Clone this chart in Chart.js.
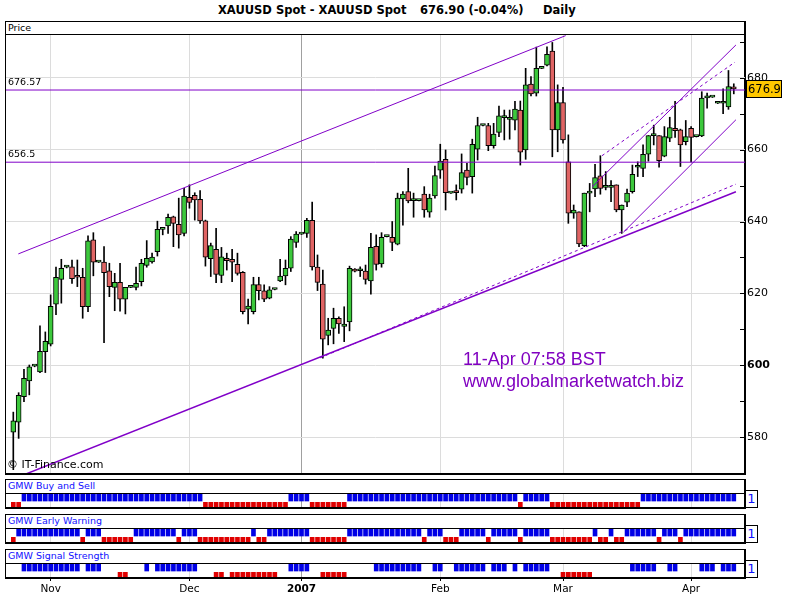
<!DOCTYPE html>
<html>
<head>
<meta charset="utf-8">
<title>XAUUSD Spot</title>
<script src="https://cdn.jsdelivr.net/npm/chart.js@4.4.1/dist/chart.umd.min.js"></script>
<style>
  html, body { margin: 0; padding: 0; background: #fff; }
  #page { position: relative; width: 800px; height: 600px; overflow: hidden; font-family: "DejaVu Sans", sans-serif; color: #000; }
  #page > * { position: absolute; }
  .frame { box-sizing: border-box; border: 1px solid #000; border-right-width: 2px; border-bottom-width: 2px; }
  .rule { height: 1px; background: #000; }
  .ttl { font-weight: bold; font-size: 11.5px; top: 3px; white-space: pre; }
  .strip-title { font-size: 9.5px; color: #1010ff; left: 8px; white-space: pre; }
  .one { box-sizing: border-box; width: 12px; height: 18px; border: 1px solid #000; border-left: none; color: #1010ff; font-size: 13px; text-align: center; line-height: 16px; }
  .mark { font-family: "Liberation Sans", Arial, sans-serif; font-size: 18px; color: #8000c0; left: 463px; white-space: pre; line-height: 20px; }
  canvas { left: 0; }
</style>
</head>
<body>
<div id="page">
  <span class="ttl" style="left:218px">XAUUSD Spot - XAUUSD Spot</span>
  <span class="ttl" style="left:420px">676.90 (-0.04%)</span>
  <span class="ttl" style="left:543px">Daily</span>

  <div class="frame" style="left:5px;top:21px;width:741px;height:454px"></div>
  <div class="rule" style="left:5px;top:34px;width:740px"></div>
  <span style="left:8px;top:22px;font-size:9.5px">Price</span>
  <canvas id="main" width="800" height="438" style="top:35px"></canvas>
  <div class="mark" style="top:349px">11-Apr 07:58 BST</div>
  <div class="mark" style="top:371px">www.globalmarketwatch.biz</div>
  <span style="left:7px;top:458px;font-size:11px">© IT-Finance.com</span>

  <div class="frame" style="left:5px;top:479px;width:741px;height:30px"></div>
  <div class="rule" style="left:5px;top:493px;width:740px"></div>
  <span class="strip-title" style="top:480px">GMW Buy and Sell</span>
  <div class="one" style="left:746px;top:490px">1</div>
  <canvas id="strip1" width="800" height="13" style="top:494px"></canvas>

  <div class="frame" style="left:5px;top:514px;width:741px;height:30px"></div>
  <div class="rule" style="left:5px;top:528px;width:740px"></div>
  <span class="strip-title" style="top:515px">GMW Early Warning</span>
  <div class="one" style="left:746px;top:525px">1</div>
  <canvas id="strip2" width="800" height="13" style="top:529px"></canvas>

  <div class="frame" style="left:5px;top:549px;width:741px;height:30px"></div>
  <div class="rule" style="left:5px;top:563px;width:740px"></div>
  <span class="strip-title" style="top:550px">GMW Signal Strength</span>
  <div class="one" style="left:746px;top:560px">1</div>
  <canvas id="strip3" width="800" height="36" style="top:564px"></canvas>
</div>

<script>
// Daily bars, one slot per trading session (late Oct 2006 to 11 Apr 2007)
const opens = [
  581.4, 584.2, 591.3, 595.7, 599.8, 598.2, 603.8, 605.9, 617.0, 623.9,
  627.3, 627.4, 624.6, 624.5, 616.3, 634.9, 628.7, 628.7, 626.3, 621.7,
  623.1, 618.4, 621.7, 621.7, 623.3, 627.8, 628.8, 631.6, 637.8, 638.8,
  641.3, 639.2, 636.7, 646.7, 647.3, 646.2, 640.2, 629.7, 632.3, 625.0,
  629.8, 629.5, 628.1, 625.9, 615.6, 614.9, 622.5, 620.7, 618.7, 621.1,
  623.5, 624.9, 627.0, 634.2, 636.5, 636.7, 640.3, 627.3, 622.6, 608.3,
  610.3, 613.1, 610.8, 612.1, 626.7, 626.3, 626.2, 623.5, 633.1, 628.2,
  635.8, 635.6, 633.7, 646.3, 648.3, 645.8, 645.8, 647.6, 642.6, 647.1,
  654.3, 657.3, 647.9, 648.6, 649.0, 654.3, 652.5, 660.1, 666.7, 666.7,
  661.1, 664.8, 668.9, 668.4, 668.2, 671.0, 659.9, 678.2, 675.7, 682.6,
  683.5, 687.4, 665.5, 673.1, 656.6, 642.3, 642.7, 633.3, 647.9, 649.1,
  652.7, 649.5, 649.5, 650.2, 643.2, 645.4, 648.3, 655.1, 654.8, 658.7,
  663.9, 663.9, 658.2, 663.2, 665.9, 665.5, 662.2, 665.9, 663.6, 663.8,
  674.4, 674.6, 672.9, 672.9, 671.9, 677.0
];
const highs = [
  587.0, 592.4, 598.9, 600.1, 600.0, 611.0, 609.3, 619.6, 627.3, 629.5,
  627.6, 629.3, 629.3, 627.0, 636.0, 636.9, 628.8, 633.0, 628.4, 625.6,
  628.4, 621.7, 621.8, 627.3, 629.5, 634.7, 631.2, 640.1, 637.9, 642.1,
  641.5, 646.5, 649.2, 650.2, 648.0, 648.6, 640.4, 634.0, 638.1, 632.8,
  631.2, 632.3, 631.2, 626.1, 618.4, 624.5, 624.5, 622.4, 621.9, 621.2,
  629.5, 629.3, 635.8, 637.2, 636.6, 640.9, 645.4, 630.7, 626.5, 613.1,
  615.9, 613.5, 616.3, 627.6, 626.9, 627.4, 627.9, 636.7, 636.3, 636.9,
  635.9, 640.0, 647.9, 648.3, 654.8, 647.9, 645.9, 649.7, 647.6, 655.4,
  661.5, 659.9, 648.0, 650.2, 658.8, 656.2, 662.9, 669.0, 666.8, 667.3,
  667.3, 672.1, 671.0, 671.0, 673.4, 673.5, 682.6, 680.3, 688.5, 682.7,
  688.6, 689.8, 678.0, 677.3, 664.1, 644.6, 642.7, 647.9, 650.6, 655.9,
  658.3, 653.9, 651.4, 650.2, 644.6, 649.0, 655.7, 656.6, 661.3, 663.9,
  666.8, 663.9, 666.4, 669.0, 673.4, 665.7, 668.1, 666.4, 663.7, 676.1,
  675.7, 674.7, 673.0, 676.9, 682.0, 678.3
];
const lows = [
  571.0, 579.7, 589.9, 591.8, 599.6, 598.0, 598.0, 605.4, 614.1, 617.3,
  627.1, 622.8, 621.9, 613.1, 614.9, 624.9, 628.6, 606.3, 619.1, 615.2,
  615.1, 614.3, 621.6, 621.0, 622.1, 627.3, 628.4, 630.4, 636.3, 636.7,
  633.0, 632.6, 636.0, 643.7, 640.4, 639.5, 627.6, 624.7, 623.0, 623.0,
  626.5, 623.3, 625.1, 614.3, 611.5, 614.3, 618.2, 617.7, 618.5, 621.0,
  623.3, 622.4, 626.1, 632.8, 636.4, 635.6, 626.5, 620.8, 602.0, 605.7,
  606.0, 608.9, 606.6, 609.6, 626.0, 624.7, 622.6, 619.8, 626.5, 627.3,
  635.7, 631.9, 633.5, 639.0, 645.2, 641.2, 645.7, 641.2, 641.2, 646.5,
  652.0, 643.2, 647.8, 646.0, 647.9, 650.2, 647.9, 657.1, 666.6, 659.7,
  660.4, 663.6, 662.7, 662.9, 665.5, 655.7, 657.3, 674.9, 674.9, 682.5,
  683.3, 658.0, 659.4, 661.8, 639.5, 640.9, 633.0, 633.0, 642.7, 646.9,
  647.6, 648.8, 645.5, 642.7, 636.7, 644.1, 647.9, 652.5, 652.5, 656.8,
  661.3, 655.1, 658.0, 662.2, 663.4, 655.3, 661.3, 656.6, 663.5, 663.6,
  671.5, 674.5, 672.8, 670.0, 671.2, 675.5
];
const closes = [
  584.6, 591.7, 596.4, 599.6, 599.9, 603.9, 606.7, 616.4, 624.5, 627.0,
  627.4, 624.1, 624.5, 616.3, 634.6, 628.7, 628.7, 625.8, 621.9, 623.1,
  618.4, 621.7, 621.7, 622.8, 628.4, 629.8, 630.1, 637.8, 637.8, 641.2,
  639.5, 636.3, 647.1, 645.3, 646.0, 640.2, 630.1, 633.3, 625.3, 630.2,
  629.1, 628.7, 625.6, 614.9, 616.5, 622.5, 620.8, 618.4, 621.0, 621.1,
  624.8, 627.0, 635.1, 636.5, 636.5, 640.3, 627.4, 623.1, 607.3, 609.8,
  613.1, 611.5, 611.5, 627.0, 626.2, 626.3, 623.9, 632.8, 628.1, 635.6,
  635.8, 634.2, 646.5, 647.6, 645.7, 645.8, 645.8, 643.2, 646.5, 652.8,
  656.8, 648.0, 647.9, 648.0, 653.6, 652.3, 661.5, 666.7, 666.7, 661.1,
  664.3, 669.4, 668.9, 669.0, 671.3, 659.3, 678.0, 675.5, 682.6, 682.6,
  686.5, 665.5, 673.1, 662.7, 642.3, 643.2, 633.8, 647.9, 647.9, 652.2,
  649.2, 649.5, 649.5, 643.2, 644.6, 647.9, 653.1, 655.1, 658.7, 663.9,
  663.9, 656.9, 663.6, 666.1, 665.3, 661.3, 663.6, 663.4, 663.6, 674.3,
  674.4, 674.6, 672.9, 672.9, 677.5, 676.9
];

// month starts (slot index) and their axis labels
const monthIdx = [7, 33, 54, 80, 103, 127];
const monthLabels = ['Nov', 'Dec', '2007', 'Feb', 'Mar', 'Apr'];
const priceTicks = [580, 590, 600, 610, 620, 630, 640, 650, 660, 670, 680, 690];

// horizontal levels and drawn trend lines, as [slot, price] end points
const levels = [676.57, 656.5];
const channelTop = [[0.94, 631.0], [103.5, 691.7]];
const channelBottom = [[0, 568.4], [135.4, 648.3]];
const supportDash = [[57.5, 602.1], [135.4, 650.4]];
const fanUpper = [[108.5, 649.7], [135.4, 689.1]];
const fanLower = [[114.3, 637.0], [135.4, 668.3]];
const fanDash = [[110.3, 658.3], [135.2, 684.3]];

// indicator strips: 1 = blue (buy), -1 = red (sell), 0 = none
const buySell = [
  -1,-1, 1, 1, 1, 1, 1, 1, 1, 1, 1, 1, 1, 1, 1, 1, 1, 1, 1, 1,
   1, 1, 1, 1, 1, 1, 1, 1, 1, 1, 1, 1, 1, 1, 1, 1,-1,-1,-1,-1,
  -1,-1,-1,-1,-1,-1,-1,-1,-1,-1,-1,-1, 1, 1, 1, 1,-1,-1,-1,-1,
  -1,-1,-1, 1, 1, 1, 1, 1, 1, 1, 1, 1, 1, 1, 1, 1, 1, 1, 1, 1,
   1, 1, 1, 1, 1, 1, 1, 1, 1, 1, 1, 1, 1, 1, 1,-1, 1, 1, 1, 1,
   1,-1,-1,-1,-1,-1,-1,-1,-1,-1,-1,-1,-1,-1,-1,-1,-1,-1, 1, 1,
   1, 1, 1, 1, 1, 1, 1, 1, 1, 1, 1, 1, 1, 1, 1, 1
];
const earlyWarning = [
  -1, 1, 1, 1, 1, 1, 1, 1, 1, 1, 1, 1, 1,-1, 1, 1, 1,-1,-1,-1,
  -1,-1,-1, 1, 1, 1, 1, 1, 1, 1, 1,-1, 1, 1, 1,-1,-1,-1,-1,-1,
  -1,-1,-1,-1,-1, 1,-1,-1, 1, 1, 1, 1, 1, 1, 1, 1,-1,-1,-1,-1,
  -1,-1,-1, 1, 1, 1, 1, 1, 1, 1, 1, 1, 1, 1, 1, 1, 1,-1, 1, 1,
   1,-1,-1,-1, 1, 1, 1, 1, 1,-1, 1, 1, 1, 1, 1,-1, 1, 1, 1, 1,
   1,-1,-1,-1,-1,-1,-1,-1,-1, 1,-1,-1, 1,-1,-1, 1, 1, 1, 1, 1,
   1,-1, 1, 1, 1,-1, 1, 1, 1, 1, 1, 1, 1, 1, 1, 1
];
const signalStrength = [
   0, 0, 1, 1, 1, 1, 1, 1, 1, 1, 1, 1, 1, 0, 1, 1, 1, 0, 0, 0,
  -1,-1, 0, 0, 0, 1, 0, 1, 1, 1, 1, 1, 1, 1, 1, 0, 0, 0,-1,-1,
   0,-1,-1,-1,-1,-1,-1,-1,-1,-1, 0, 0, 1, 1, 1, 1, 0, 0,-1,-1,
  -1,-1,-1, 0, 0, 0, 0, 0, 1, 1, 1, 1, 1, 1, 1, 1, 1, 0, 0, 1,
   1, 0, 0, 1, 1, 1, 1, 1, 1, 0, 1, 1, 1, 0, 1, 0, 1, 1, 1, 1,
   1, 0, 0,-1,-1,-1,-1,-1,-1, 0, 0, 0, 0, 0, 0, 0, 1, 1, 1, 1,
   1, 0, 0, 1, 1, 0, 0, 0, 0, 1, 1, 1, 0, 1, 1, 1
];

const X_MIN = -1.368, X_MAX = 137.1;
const UP = '#3cc83c', DOWN = '#e06464', PURPLE = '#8000c8';
const GRID = '#dcdcdc', YEAR_GRID = '#a0a0a0';
const AXIS_FONT = '"DejaVu Sans", sans-serif';

const slots = opens.map((_, i) => i);

function monthGridColor(ctx) {
  return monthLabels[ctx.index] === '2007' ? YEAR_GRID : GRID;
}

// stop Chart.js from reserving room for half a tick label at the ends
function noEndPadding(s) {
  s.paddingTop = 0;
  s.paddingBottom = 0;
  s.paddingLeft = 0;
  s.paddingRight = 0;
}

function timeAxis(extra) {
  return Object.assign({
    type: 'linear',
    min: X_MIN,
    max: X_MAX,
    offset: false,
    grid: { offset: false, color: monthGridColor, drawTicks: false },
    border: { display: false },
    ticks: { display: false },
    afterBuildTicks: s => { s.ticks = monthIdx.map(v => ({ value: v })); },
    afterFit: s => { s.height = 0; noEndPadding(s); }
  }, extra || {});
}

function trendLine(points, dash, width) {
  return {
    type: 'line',
    data: points.map(([x, y]) => ({ x, y })),
    borderColor: PURPLE,
    borderWidth: width || 1,
    borderDash: dash || [],
    pointRadius: 0,
    order: 0
  };
}

// inward tick marks, level captions and last price tag
const priceOverlay = {
  id: 'priceOverlay',
  afterDraw(chart) {
    const { ctx, chartArea, scales: { y } } = chart;
    ctx.save();
    ctx.strokeStyle = '#000';
    ctx.lineWidth = 1;
    y.ticks.forEach(t => {
      const py = Math.round(y.getPixelForValue(t.value)) + 0.5;
      ctx.beginPath();
      ctx.moveTo(chartArea.right - 5, py);
      ctx.lineTo(chartArea.right, py);
      ctx.stroke();
    });

    ctx.fillStyle = '#000';
    ctx.font = '9.5px ' + AXIS_FONT;
    ctx.textBaseline = 'bottom';
    levels.forEach(v => ctx.fillText(String(v), chartArea.left + 2, y.getPixelForValue(v) - 3));

    const last = closes[closes.length - 1];
    const py = Math.round(y.getPixelForValue(last));
    ctx.fillStyle = '#ffc800';
    ctx.fillRect(chartArea.right + 1, py - 9, 36, 18);
    ctx.strokeRect(chartArea.right + 1.5, py - 8.5, 35, 17);
    ctx.fillStyle = '#000';
    ctx.font = '11.5px ' + AXIS_FONT;
    ctx.textBaseline = 'middle';
    ctx.fillText(last.toFixed(1), chartArea.right + 3, py + 1);
    ctx.restore();
  }
};

new Chart(document.getElementById('main'), {
  type: 'bar',
  data: {
    datasets: [
      trendLine([[X_MIN, levels[0]], [X_MAX, levels[0]]]),
      trendLine([[X_MIN, levels[1]], [X_MAX, levels[1]]]),
      trendLine(channelTop),
      trendLine(channelBottom, [], 1.5),
      trendLine(supportDash, [3, 3]),
      trendLine(fanUpper),
      trendLine(fanLower),
      trendLine(fanDash, [3, 3]),
      {
        data: slots.map(i => ({ x: i, y: [opens[i], closes[i]] })),
        backgroundColor: slots.map(i => closes[i] >= opens[i] ? UP : DOWN),
        borderColor: '#000',
        borderWidth: 1,
        borderSkipped: false,
        grouped: false,
        barThickness: 5,
        maxBarThickness: 5,
        minBarLength: 2,
        order: 1
      },
      {
        data: slots.map(i => ({ x: i, y: [lows[i], highs[i]] })),
        backgroundColor: '#000',
        grouped: false,
        barThickness: 1,
        maxBarThickness: 1,
        order: 2
      }
    ]
  },
  options: {
    responsive: false,
    animation: false,
    devicePixelRatio: 1,
    layout: { padding: { left: 6, right: 0, top: 0, bottom: 0 } },
    plugins: { legend: { display: false }, tooltip: { enabled: false } },
    scales: {
      x: timeAxis(),
      y: {
        position: 'right',
        min: 570.07,
        max: 691.87,
        grid: {
          color: ctx => ctx.tick.value % 20 === 0 ? GRID : 'rgba(0,0,0,0)',
          drawTicks: false
        },
        border: { display: false },
        ticks: {
          padding: 2,
          color: '#000',
          font: ctx => ({ family: AXIS_FONT, size: 11, weight: ctx.tick && ctx.tick.value === 600 ? 'bold' : 'normal' }),
          callback: v => v % 20 === 0 ? String(v) : ''
        },
        afterBuildTicks: s => { s.ticks = priceTicks.map(v => ({ value: v })); },
        afterFit: s => { s.width = 55; noEndPadding(s); }
      }
    }
  },
  plugins: [priceOverlay]
});

function drawStrip(id, values, withLabels) {
  const blue = slots.filter(i => values[i] > 0);
  const red = slots.filter(i => values[i] < 0);
  const xAxis = withLabels ? timeAxis({
    grid: { offset: false, color: monthGridColor, drawTicks: true, tickLength: 4, tickColor: '#000' },
    ticks: {
      display: true,
      autoSkip: false,
      maxRotation: 0,
      padding: 2,
      color: '#000',
      font: ctx => ({ family: AXIS_FONT, size: 10.5, weight: monthLabels[ctx.index] === '2007' ? 'bold' : 'normal' }),
      callback: (v, i) => monthLabels[i]
    },
    afterFit: s => { s.height = 23; noEndPadding(s); }
  }) : timeAxis();

  new Chart(document.getElementById(id), {
    type: 'bar',
    data: {
      datasets: [
        {
          data: blue.map(i => ({ x: i, y: [-0.08, 0.97] })),
          backgroundColor: '#0000e6',
          grouped: false,
          barThickness: 4,
          maxBarThickness: 4
        },
        {
          data: red.map(i => ({ x: i, y: [-0.95, -0.28] })),
          backgroundColor: '#e00000',
          grouped: false,
          barThickness: 4,
          maxBarThickness: 4
        }
      ]
    },
    options: {
      responsive: false,
      animation: false,
      devicePixelRatio: 1,
      layout: { padding: { left: 6, right: 55, top: 0, bottom: 0 } },
      plugins: { legend: { display: false }, tooltip: { enabled: false } },
      scales: {
        x: xAxis,
        y: { display: false, min: -1, max: 1 }
      }
    }
  });
}

drawStrip('strip1', buySell, false);
drawStrip('strip2', earlyWarning, false);
drawStrip('strip3', signalStrength, true);
</script>
</body>
</html>
